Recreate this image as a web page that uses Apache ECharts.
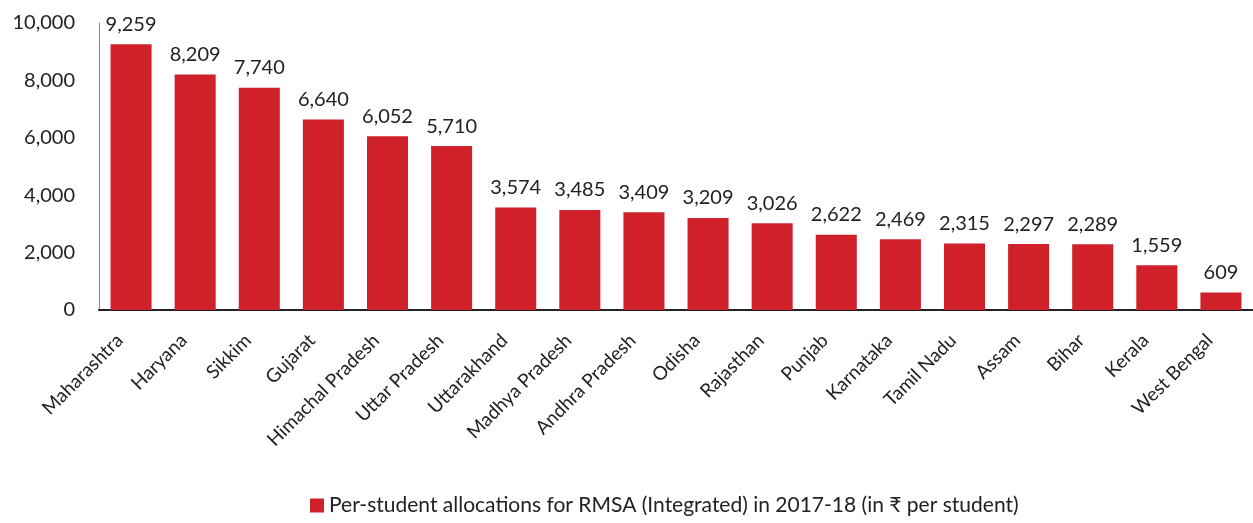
<!DOCTYPE html>
<html>
<head>
<meta charset="utf-8">
<script src="https://cdn.jsdelivr.net/npm/echarts@6/dist/echarts.min.js"></script>
<style>
  html, body { margin: 0; padding: 0; background: #fff; }
  #myChart { width: 1253px; height: 523px; }
</style>
</head>
<body>
<div id="myChart"></div>
<script>
var states = ['Maharashtra', 'Haryana', 'Sikkim', 'Gujarat', 'Himachal Pradesh', 'Uttar Pradesh',
    'Uttarakhand', 'Madhya Pradesh', 'Andhra Pradesh', 'Odisha', 'Rajasthan', 'Punjab',
    'Karnataka', 'Tamil Nadu', 'Assam', 'Bihar', 'Kerala', 'West Bengal'];
var allocations = [9259, 8209, 7740, 6640, 6052, 5710, 3574, 3485, 3409, 3209, 3026, 2622,
    2469, 2315, 2297, 2289, 1559, 609];
var seriesName = 'Per-student allocations for RMSA (Integrated) in 2017-18 (in ₹ per student)';

var font = 'Lato, "Open Sans", sans-serif';

function fmt(v) {
    return v.toLocaleString('en-US');
}

var myChart = echarts.init(document.getElementById('myChart'));
var option = {
    animation: false,
    textStyle: { fontFamily: font },
    legend: {
        data: [seriesName],
        left: 305,
        bottom: 2,
        itemWidth: 14,
        itemHeight: 14,
        icon: 'rect',
        textStyle: { fontSize: 21, color: '#222', fontFamily: font }
    },
    grid: {
        left: 99,
        right: 0,
        top: 23,
        bottom: 213
    },
    xAxis: {
        type: 'category',
        data: states,
        axisLine: { lineStyle: { color: '#222', width: 2 } },
        axisTick: { show: false },
        axisLabel: {
            rotate: 45,
            interval: 0,
            fontSize: 19,
            color: '#222',
            margin: 16,
            padding: [0, 16, 0, 0],
            fontFamily: font
        }
    },
    yAxis: {
        type: 'value',
        min: 0,
        max: 10000,
        interval: 2000,
        axisLine: { show: true, lineStyle: { color: '#888', width: 1 } },
        axisTick: { show: false },
        splitLine: { show: false },
        axisLabel: {
            formatter: fmt,
            fontSize: 20,
            color: '#222',
            margin: 24,
            fontFamily: font
        }
    },
    series: [{
        name: seriesName,
        type: 'bar',
        data: allocations,
        barCategoryGap: '36%',
        itemStyle: { color: '#d0202a' },
        label: {
            show: true,
            position: 'top',
            distance: 10,
            formatter: function (p) { return fmt(p.value); },
            fontSize: 20,
            color: '#222',
            fontFamily: font
        }
    }]
};
myChart.setOption(option);
</script>
</body>
</html>
